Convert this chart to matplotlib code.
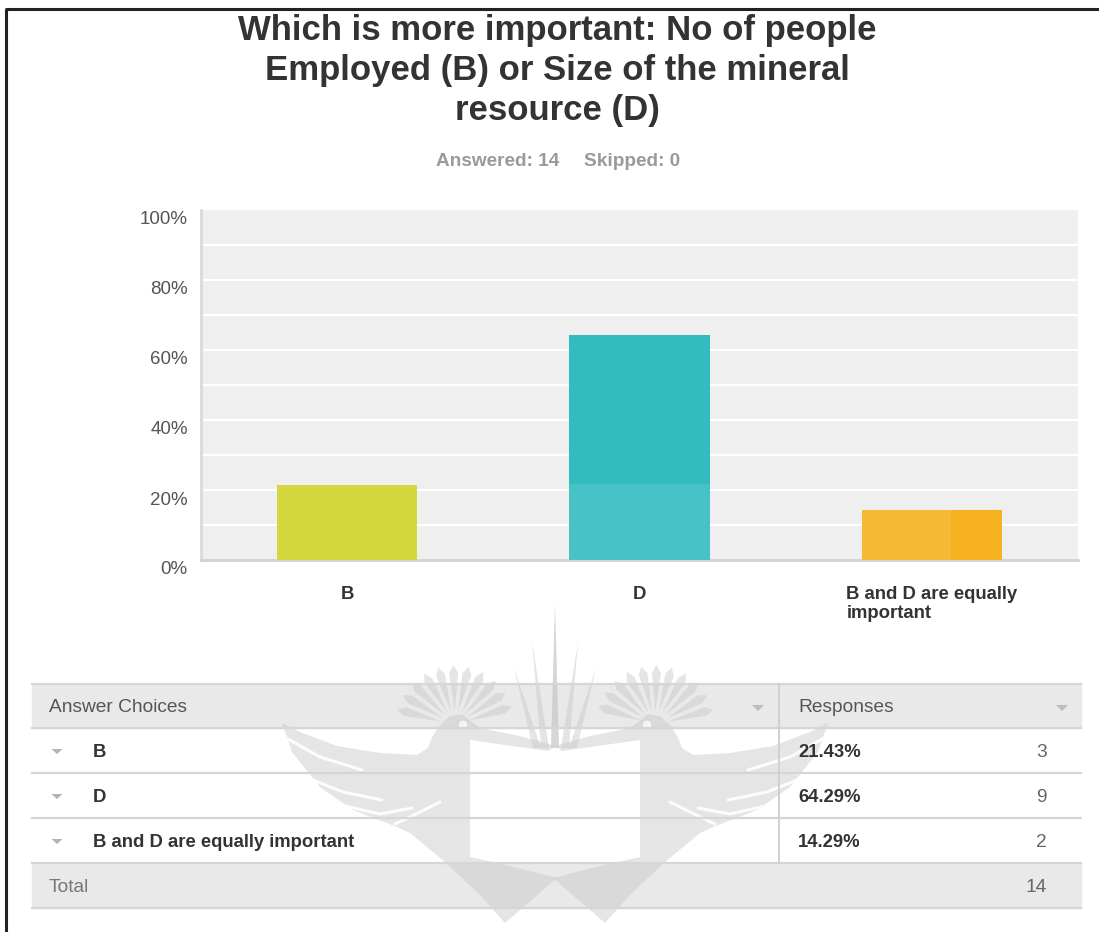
import numpy as np
import matplotlib.pyplot as plt
from matplotlib.patches import Polygon, Rectangle, Circle
from matplotlib.transforms import ScaledTranslation

plt.rcParams['font.family'] = ['Liberation Sans', 'DejaVu Sans']

# survey results
choices = ['B', 'D', 'B and D are equally important']
axis_labels = ['B', 'D', 'B and D are equally\nimportant']
percents = [21.43, 64.29, 14.29]
counts = [3, 9, 2]
answered = 14
skipped = 0
bar_colors = ['#d4d83e', '#33bcc0', '#f6b220']

title_lines = ['Which is more important: No of people',
               'Employed (B) or Size of the mineral',
               'resource (D)']

W, H = 1099, 932
fig = plt.figure(figsize=(W / 100, H / 100), dpi=100)


def fx(x):
    return x / W


def fy(y):
    return 1 - y / H


# full-page layer in pixel units for the frame, table and logo
pg = fig.add_axes([0, 0, 1, 1], zorder=0)
pg.set_xlim(0, W)
pg.set_ylim(H, 0)
pg.axis('off')

# frame
pg.plot([5, W], [9, 9], color='#222222', lw=2.2, solid_capstyle='butt')
pg.plot([6, 6], [9, H], color='#222222', lw=2.2, solid_capstyle='butt')

# ---- title ----
for i, line in enumerate(title_lines):
    fig.text(fx(557), fy(40 + 40 * i), line, ha='center', va='baseline',
             fontsize=25, fontweight='bold', color='#333333')
fig.text(fx(559), fy(166), f'Answered: {answered}', ha='right', va='baseline',
         fontsize=13.7, fontweight='bold', color='#9a9a9a')
fig.text(fx(584), fy(166), f'Skipped: {skipped}', ha='left', va='baseline',
         fontsize=13.7, fontweight='bold', color='#9a9a9a')

# ---- bar chart ----
ax = fig.add_axes([fx(201), fy(560), (1078 - 201) / W, (560 - 210) / H], zorder=2)
ax.set_facecolor('#efefef')
xs = np.arange(len(choices))
ax.bar(xs, percents, width=0.48, color=bar_colors, zorder=3)
# paler lower part on the middle bar and left part on the last bar
ax.bar(1, 21.7, width=0.48, color='white', alpha=0.1, lw=0, zorder=4)
ax.bar(2 - 0.24, percents[2], width=0.48 * 0.64, align='edge', color='white',
       alpha=0.1, lw=0, zorder=4)
ax.set_xlim(-0.5, 2.5)
ax.set_ylim(0, 100)
for v in range(10, 100, 10):
    ax.axhline(v, color='white', lw=1.6, zorder=2)

ax.set_yticks(range(0, 101, 20))
ax.set_yticklabels([f'{v}%' for v in range(0, 101, 20)], fontsize=13.5, color='#555555')
ax.tick_params(axis='y', length=0, pad=9.5)
shift = ScaledTranslation(0, -8 / 100, fig.dpi_scale_trans)
for lab in ax.get_yticklabels():
    lab.set_transform(lab.get_transform() + shift)

ax.set_xticks(xs)
ax.set_xticklabels(axis_labels, fontsize=13.3, fontweight='bold', color='#333333',
                   multialignment='left', linespacing=1.15)
ax.tick_params(axis='x', length=0, pad=19)
for s in ['top', 'right']:
    ax.spines[s].set_visible(False)
ax.spines['left'].set_color('#dadada')
ax.spines['left'].set_linewidth(2)
ax.spines['bottom'].set_color('#d2d2d2')
ax.spines['bottom'].set_linewidth(2)

# ---- response table ----
t_left, t_right, t_split = 32, 1081, 779
t_top, head_h, row_h = 684, 44, 45
edges = [t_top, t_top + head_h] + [t_top + head_h + row_h * (i + 1) for i in range(len(choices) + 1)]
total_top, total_bot = edges[-2], edges[-1]

pg.add_patch(Rectangle((t_left, t_top), t_right - t_left, head_h, color='#e9e9e9', zorder=1))
pg.add_patch(Rectangle((t_left, total_top), t_right - t_left, total_bot - total_top,
                       color='#e9e9e9', zorder=1))

# logo watermark: left half, mirrored about x = 555
cx = 555
wm = dict(color='#c6c6c6', alpha=0.45, lw=0, zorder=2)
bird = [(282, 723), (300, 732), (337, 746), (380, 753), (417, 755), (428, 748),
        (432, 737), (440, 725), (450, 716), (462, 714), (472, 722), (480, 728),
        (520, 736), (555, 746), (548, 751), (470, 740), (470, 857), (510, 866),
        (557, 878), (505, 923), (480, 895), (445, 862), (410, 833), (397, 827),
        (353, 810), (320, 787), (292, 752)]
shapes = [bird]
# crest feathers fanning out from the head
hx, hy0 = 455, 725
for a in np.radians(np.linspace(18, 165, 11)):
    u = np.array([np.cos(a), -np.sin(a)])
    p = np.array([-u[1], u[0]])
    c = np.array([hx, hy0])
    shapes.append([tuple(c + 14 * u), tuple(c + 52 * u + 4.5 * p),
                   tuple(c + 60 * u), tuple(c + 52 * u - 4.5 * p)])
# rays rising from the top of the shield
for tip_x, tip_y, base in [(555, 605, 555), (532, 642, 545), (514, 668, 537)]:
    shapes.append([(base - 4, 748), (tip_x, tip_y), (base + 4, 748)])

for shape in shapes:
    for side in (1, -1):
        pts = [(cx + side * (x - cx), y) for x, y in shape]
        pg.add_patch(Polygon(pts, closed=True, **wm))

# white feather gaps in the wings and the eye
stripes = [[(286, 738), (320, 757), (362, 770)],
           [(308, 778), (343, 792), (382, 800)],
           [(345, 806), (380, 814), (412, 808)],
           [(395, 824), (420, 812), (440, 802)]]
for st in stripes:
    for side in (1, -1):
        xs_s = [cx + side * (x - cx) for x, _ in st]
        pg.plot(xs_s, [y for _, y in st], color='white', lw=2.2, alpha=0.9,
                solid_capstyle='round', zorder=2.5)
for side in (1, -1):
    pg.add_patch(Circle((cx + side * (463 - cx), 725), 3.5, color='white', alpha=0.7, zorder=2.5))

for i, e in enumerate(edges):
    pg.plot([t_left, t_right], [e, e], color='#d6d6d6', lw=1.6, zorder=3)
pg.plot([t_split, t_split], [t_top, total_top], color='#d0d0d0', lw=1.4, zorder=3)


def tri(x, y, w, h, color):
    pg.add_patch(Polygon([(x - w / 2, y - h / 2), (x + w / 2, y - h / 2), (x, y + h / 2)],
                         closed=True, color=color, lw=0, zorder=4))


mid = lambda a, b: (a + b) / 2
hy = mid(edges[0], edges[1])
pg.text(49, hy, 'Answer Choices', ha='left', va='center_baseline', fontsize=13.8, color='#555555')
pg.text(798, hy, 'Responses', ha='left', va='center_baseline', fontsize=13.8, color='#555555')
tri(758, hy + 2, 12, 6, '#bdbdbd')
tri(1062, hy + 2, 12, 6, '#bdbdbd')

for i, (name, pct, n) in enumerate(zip(choices, percents, counts)):
    ry = mid(edges[i + 1], edges[i + 2])
    tri(57, ry + 1, 11, 5, '#b3b3b3')
    pg.text(93, ry, name, ha='left', va='center_baseline', fontsize=13.3,
            fontweight='bold', color='#333333')
    pg.text(798, ry, f'{pct:.2f}%', ha='left', va='center_baseline', fontsize=13.3,
            fontweight='bold', color='#333333')
    pg.text(1047, ry, str(n), ha='right', va='center_baseline', fontsize=13.8, color='#666666')

ty = mid(total_top, total_bot)
pg.text(49, ty, 'Total', ha='left', va='center_baseline', fontsize=13.8, color='#777777')
pg.text(1047, ty, str(sum(counts)), ha='right', va='center_baseline', fontsize=13.8, color='#666666')

fig.savefig('out.png', dpi=100, facecolor='white')
